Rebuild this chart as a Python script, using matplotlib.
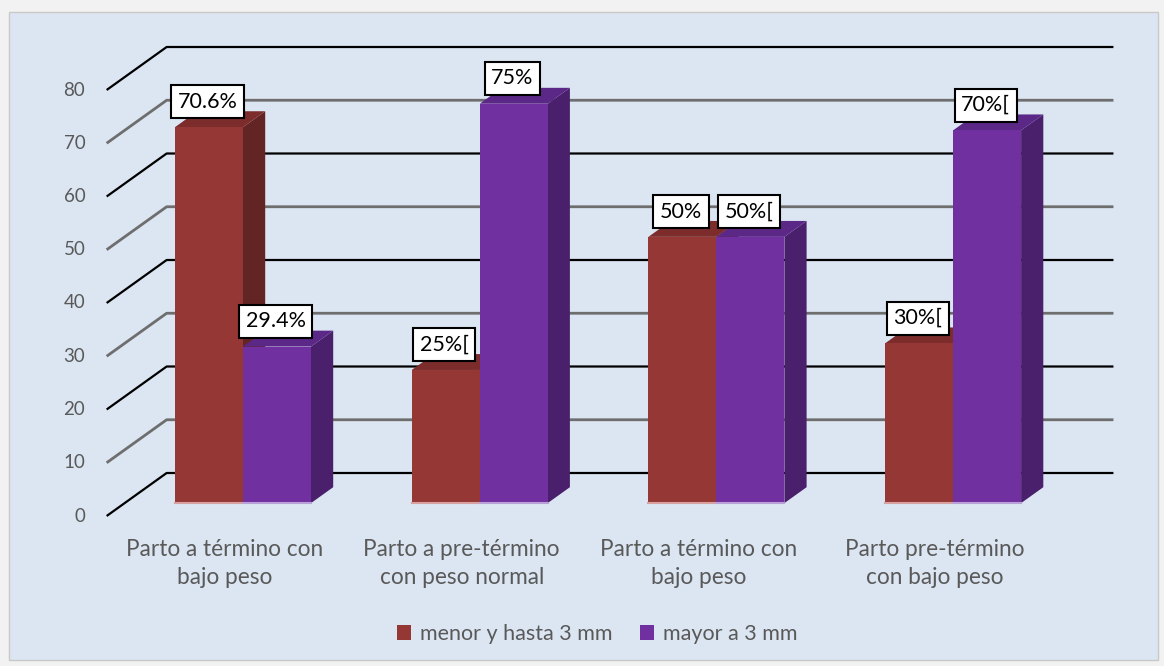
import matplotlib.pyplot as plt
from matplotlib.patches import Polygon, Rectangle, Patch

plt.rcParams['font.family'] = ['Lato', 'DejaVu Sans']

categories = ["Parto a término con\nbajo peso",
              "Parto a pre-término\ncon peso normal",
              "Parto a término con\nbajo peso",
              "Parto pre-término\ncon bajo peso"]
series_names = ["menor y hasta 3 mm", "mayor a 3 mm"]
menor = [70.6, 25, 50, 30]
mayor = [29.4, 75, 50, 70]
menor_labels = ["70.6%", "25%[", "50%", "30%["]
mayor_labels = ["29.4%", "75%", "50%[", "70%["]
yticks = [0, 10, 20, 30, 40, 50, 60, 70, 80]

# colores (frente, arriba, lado)
red = ("#953735", "#7b2c2b", "#632523")
purple = ("#7030a0", "#5b2887", "#4a1f6b")

# escala: pixeles por unidad
PX_X = 236.7
PX_Y = 5.325
W, H = 1164, 666

# profundidad del 3D (en unidades de datos)
DX = 60 / PX_X
DY = 43 / PX_Y
d0 = 0.3      # posicion frontal de las barras
dd = 0.37     # grosor de las barras
bw = 68 / PX_X

fig = plt.figure(figsize=(W / 100, H / 100), dpi=100, facecolor="#f2f2f2")
ax = fig.add_axes([0, 0, 1, 1])
ax.set_xlim(-225 / PX_X, (W - 225) / PX_X)
ax.set_ylim(-150 / PX_Y, (H - 150) / PX_Y)
ax.axis("off")
ax.add_patch(Rectangle((9 / W, 6 / H), 1149 / W, 648 / H, transform=fig.transFigure,
                       facecolor="#dce6f2", edgecolor="#c8c8c8", lw=1, zorder=-10))

x0, x1 = -0.5, len(categories) - 0.5

# lineas de cuadricula (pared lateral y pared del fondo)
for v in yticks:
    c = "black" if (v // 10) % 2 == 0 else "#6e6e6e"
    lw = 1.6 if c == "black" else 2.0
    ax.plot([x0, x0 + DX, x1 + DX], [v, v + DY, v + DY], color=c, lw=lw, zorder=1,
            solid_capstyle="butt")
    ax.text(x0 - 0.09, v, str(v), ha="right", va="center", fontsize=13.5, color="#595959")


def bar3d(xl, val, cols):
    xa = xl + d0 * DX
    ya = d0 * DY
    ddx, ddy = dd * DX, dd * DY
    front = [(xa, ya), (xa + bw, ya), (xa + bw, ya + val), (xa, ya + val)]
    top = [(xa, ya + val), (xa + bw, ya + val), (xa + bw + ddx, ya + val + ddy), (xa + ddx, ya + val + ddy)]
    side = [(xa + bw, ya), (xa + bw + ddx, ya + ddy), (xa + bw + ddx, ya + val + ddy), (xa + bw, ya + val)]
    ax.add_patch(Polygon(side, closed=True, facecolor=cols[2], edgecolor="none", zorder=3))
    ax.add_patch(Polygon(top, closed=True, facecolor=cols[1], edgecolor="none", zorder=3))
    ax.add_patch(Polygon(front, closed=True, facecolor=cols[0], edgecolor="none", zorder=3))
    ax.plot([xa, xa + bw], [ya, ya], color="#d9a0a0" if cols is red else "#b9a0d6", lw=1.5, zorder=3)
    return xa + bw / 2, ya + val


def label(xc, yt, txt):
    ax.annotate(txt, (xc, yt), xytext=(-1, 11), textcoords="offset points", ha="center", va="bottom",
                fontsize=15.5, color="black", zorder=6,
                bbox=dict(boxstyle="square,pad=0.3", facecolor="white", edgecolor="black", lw=1.5))


for i in range(len(categories)):
    xc, yt = bar3d(i - bw, menor[i], red)
    label(xc, yt, menor_labels[i])
    xc2, yt2 = bar3d(i, mayor[i], purple)
    label(xc2, yt2, mayor_labels[i])
    ax.text(i, -4.3, categories[i], ha="center", va="top", fontsize=16.3, color="#595959",
            linespacing=1.4)

handles = [Patch(facecolor=red[0]), Patch(facecolor=purple[0])]
fig.legend(handles, series_names, loc="center", bbox_to_anchor=(597 / W, 32 / H), ncol=2,
           frameon=False, fontsize=15.5, labelcolor="#595959", handlelength=0.65, handleheight=0.65,
           handletextpad=0.4, columnspacing=1.3)

fig.savefig("out.png", dpi=100, facecolor=fig.get_facecolor())
